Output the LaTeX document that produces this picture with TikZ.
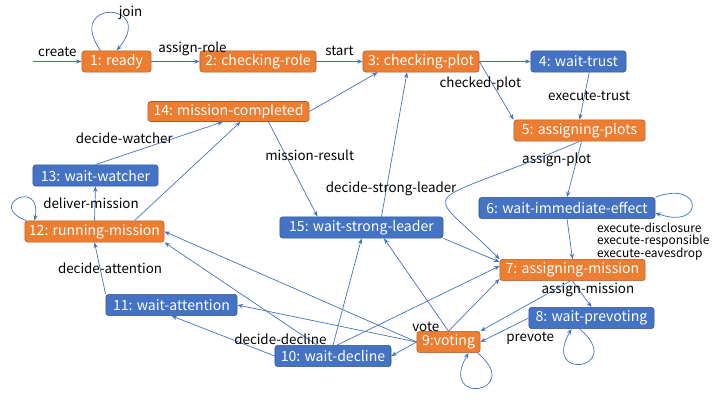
\documentclass[tikz,border=0pt]{standalone}
\usepackage{fontspec}
\setmainfont{Noto Sans CJK JP}
\usetikzlibrary{arrows.meta}
\definecolor{boxorange}{HTML}{ED7D31}
\definecolor{boxorangeline}{HTML}{AE5A21}
\definecolor{boxblue}{HTML}{4472C4}
\definecolor{boxblueline}{HTML}{2F528F}
\definecolor{connblue}{HTML}{4472C4}

\begin{document}
\begin{tikzpicture}[x=0.025cm, y=-0.025cm,
	statebox/.style={rectangle, rounded corners=2pt, minimum height=0.53cm, inner sep=2pt, text=white, font=\fontsize{10}{11}\selectfont, line width=0.4pt},
	orangebox/.style={statebox, fill=boxorange, draw=boxorangeline},
	bluebox/.style={statebox, fill=boxblue, draw=boxblueline},
	conn/.style={draw=connblue, line width=0.5pt, -{Stealth[length=4pt,width=3pt]}},
	lbl/.style={text=black, font=\fontsize{9.5}{10}\selectfont, inner sep=1pt},
	]
	\useasboundingbox (0,0) rectangle (720,405);

	\node[orangebox, minimum width=1.73cm] (n1) at (116.5,61.5) {1: ready};
	\node[orangebox, minimum width=2.9cm] (n2) at (258,61.5) {2: checking-role};
	\node[orangebox, minimum width=2.9cm] (n3) at (421,61.5) {3: checking-plot};
	\node[bluebox, minimum width=2.38cm] (n4) at (578.5,61.5) {4: wait-trust};
	\node[orangebox, minimum width=3.28cm] (n5) at (579.5,130.5) {5: assigning-plots};
	\node[bluebox, minimum width=4.4cm] (n6) at (567,208) {6: wait-immediate-effect};
	\node[orangebox, minimum width=3.63cm] (n7) at (572.5,270) {7: assigning-mission};
	\node[bluebox, minimum width=3.13cm] (n8) at (591.5,318) {8: wait-prevoting};
	\node[orangebox, minimum width=1.58cm] (n9) at (448.5,342) {9:voting};
	\node[bluebox, minimum width=2.9cm] (n10) at (333,356) {10: wait-decline};
	\node[bluebox, minimum width=3.28cm] (n11) at (171.5,305) {11: wait-attention};
	\node[orangebox, minimum width=3.48cm] (n12) at (94.5,231.5) {12: running-mission};
	\node[bluebox, minimum width=3.13cm] (n13) at (95.5,175.5) {13: wait-watcher};
	\node[orangebox, minimum width=4.03cm, minimum height=0.48cm] (n14) at (228.5,111.5) {14: mission-completed};
	\node[bluebox, minimum width=4.08cm] (n15) at (361.5,227.5) {15: wait-strong-leader};

	\coordinate (entry) at (33,61.5);
	\draw[conn] (entry) -- node[lbl, above=2pt]{create} (n1.west);
	\draw[conn] ([xshift=-0.4cm]n1.north) to[out=125, in=50, distance=1.6cm] node[lbl, pos=0.55, right=2pt]{join} (n1.north);
	\draw[conn] (n1.east) -- node[lbl, pos=0.85, above=3pt]{assign-role} (n2.west);
	\draw[conn] (n2.east) -- node[lbl, above=3pt]{start} (n3.west);
	\draw[conn] (n3.east) -- (n4.west);
	\draw[conn] (n3.east) -- node[lbl, pos=0.38, xshift=-0.3cm]{checked-plot} (n5.north west);
	\draw[conn] ([xshift=0.27cm]n4.south) -- node[lbl, midway, xshift=0.12cm]{execute-trust} (n5.north);
	\draw[conn] ([xshift=0.05cm]n5.south) -- node[lbl, pos=0.33, xshift=-0.5cm]{assign-plot} (n6.north);
	\draw[conn] (n5.south) .. controls (414,212) and (421,181) .. (n7.north west);
	\draw[conn] (n6.north east) to[out=20, in=-20, distance=1.3cm] ([yshift=-0.12cm]n6.east);
	\draw[conn] (n6.south) -- node[lbl, pos=0.05, anchor=north west, xshift=0.7cm, align=left, font=\fontsize{8.5}{8.6}\selectfont]{execute-disclosure\\execute-responsible\\execute-eavesdrop} (n7.north);
	\draw[conn] (n15.south east) -- ([yshift=0.2cm]n7.west);
	\draw[conn] ([xshift=0.1cm]n10.north) -- ([yshift=0.1cm]n7.west);
	\draw[conn] (n9.north) -- ([yshift=0.05cm]n7.south west);
	\draw[conn] (n9.north) -- node[lbl, pos=0.05, left=3pt]{vote} ([xshift=0.56cm]n15.south);
	\draw[conn] (n10.north) -- (n15.south);
	\draw[conn] (n9.west) -- (n10.east);
	\draw[conn] (n9.west) -- (n11.east);
	\draw[conn] (n9.west) -- (n12.east);
	\draw[conn] ([xshift=-0.4cm]n10.north) -- (n12.south east);
	\draw[conn] (n10.west) -- node[lbl, pos=0.1, above=0.15cm, xshift=0.4cm]{decide-decline} (n11.south);
	\draw[conn] (n11.north west) -- node[lbl, midway, xshift=0.25cm]{decide-attention} (n12.south);
	\draw[conn] (n12.north) -- node[lbl, midway, xshift=-0.1cm]{deliver-mission} (n13.south);
	\draw[conn] ([xshift=0.05cm]n12.north west) to[out=160, in=80, distance=1.1cm] ([xshift=0.25cm]n12.north west);
	\draw[conn] ([xshift=1cm]n12.north) -- ([xshift=0.3cm]n14.south);
	\draw[conn] (n13.north) -- node[lbl, pos=0.62, left=0pt]{decide-watcher} ([xshift=-0.14cm]n14.south);
	\draw[conn] (n14.east) -- ([xshift=0.375cm]n3.south west);
	\draw[conn] ([xshift=1cm]n14.south) -- node[lbl, pos=0.35, xshift=0.6cm]{mission-result} ([xshift=-1.1cm]n15.north);
	\draw[conn] ([xshift=0.5cm]n15.north) -- node[lbl, pos=0.19, xshift=0.12cm]{decide-strong-leader} ([xshift=-0.35cm]n3.south);
	\draw[conn] (n7.south) -- node[lbl, pos=0.35, xshift=0.22cm]{assign-mission} (n8.north);
	\draw[conn] ([xshift=-0.05cm]n7.south) -- (n9.north east);
	\draw[conn] (n8.west) -- node[lbl, midway, below right=0pt]{prevote} (n9.east);
	\draw[conn] ([xshift=-0.3cm]n8.south) to[out=-40, in=-120, distance=1.55cm] ([xshift=-0.5cm]n8.south);
	\draw[conn] ([xshift=-0.07cm]n9.south east) to[out=-40, in=-120, distance=1.55cm] ([xshift=0.5cm]n9.south);
\end{tikzpicture}
\end{document}
